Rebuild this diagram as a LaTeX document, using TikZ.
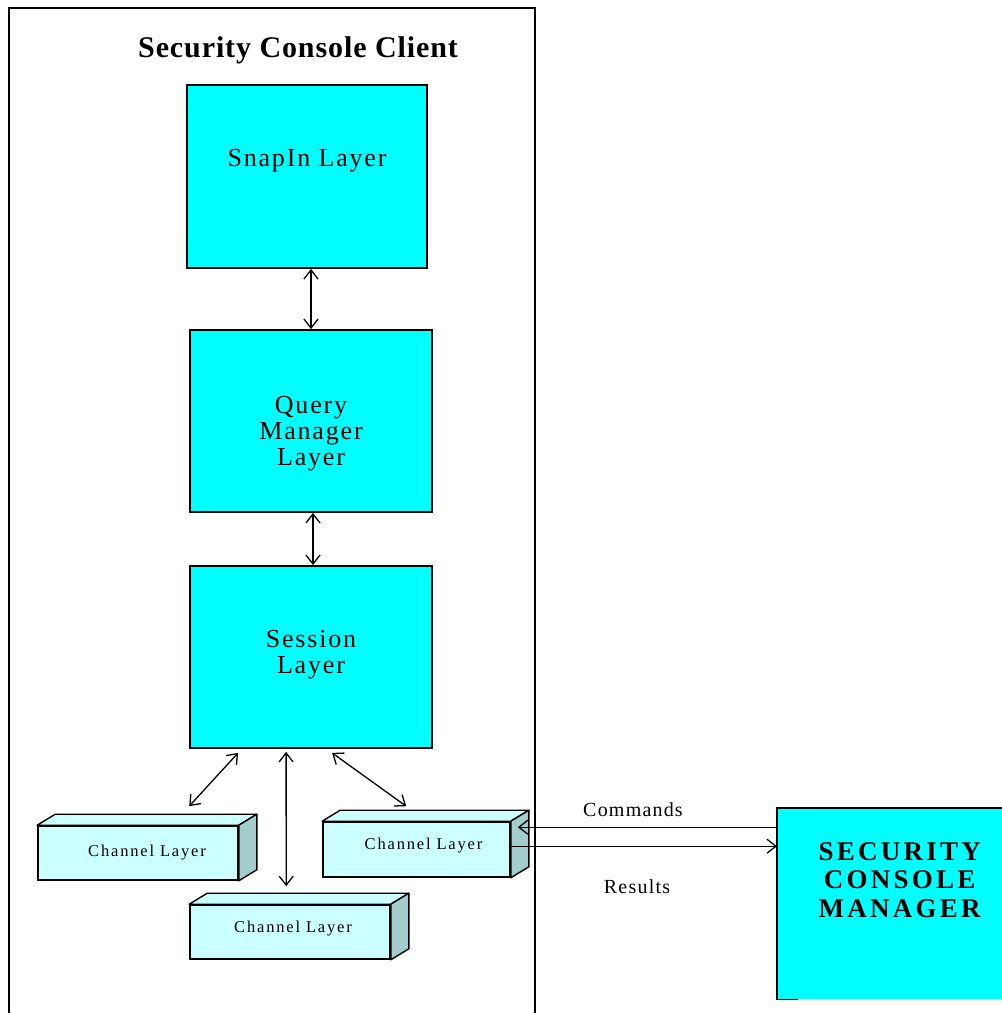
\documentclass[tikz,border=0pt]{standalone}
\usepackage{fontspec}
\setmainfont{Liberation Serif}
\usetikzlibrary{arrows.meta,calc}
\definecolor{boxcyan}{HTML}{00FFFF}
\definecolor{chfront}{HTML}{CCFFFF}
\definecolor{chside}{HTML}{A3CCCC}
\tikzset{
  layerbox/.style={draw=black, line width=1.8bp, fill=boxcyan, inner sep=0pt},
  layertext/.style={font=\fontsize{26bp}{26bp}\selectfont\addfontfeature{LetterSpace=7}, align=center, inner sep=0pt},
  chbox/.style={draw=black, line width=1.6bp, fill=chfront, inner sep=0pt, minimum height=54bp},
  chtext/.style={font=\fontsize{16.5bp}{18bp}\selectfont\addfontfeature{LetterSpace=11}, inner sep=0pt},
  chtop/.style={draw=black, line width=1.4bp, fill=chfront, line join=round},
  chsideface/.style={draw=black, line width=1.4bp, fill=chside, line join=round},
  dbl/.style={line width=1.3bp, {Straight Barb[length=9bp,width=14bp]}-{Straight Barb[length=9bp,width=14bp]}},
  oneway/.style={line width=1.3bp, -{Straight Barb[length=9bp,width=14bp]}},
  msgtext/.style={font=\fontsize{20bp}{22bp}\selectfont\addfontfeature{LetterSpace=6}, inner sep=0pt}
}
\begin{document}
\begin{tikzpicture}[x=1bp,y=-1bp]
\useasboundingbox (0,0) rectangle (1002,1013);
\fill[white] (0,0) rectangle (1002,1013);

% outer client frame
\draw[line width=1.8bp] (9,1015) -- (9,8) -- (535,8) -- (535,1015);
\node[font=\fontsize{30bp}{32bp}\selectfont\bfseries\addfontfeature{LetterSpace=3}, inner sep=0pt] (title) at (298,50) {Security Console Client};

% layers
\node[layerbox, minimum width=240bp, minimum height=183bp,
  label={[layertext, yshift=16bp]center:SnapIn Layer}] (snap) at (307,176.5) {};
\node[layerbox, minimum width=242bp, minimum height=182bp,
  label={[layertext, yshift=-13bp]center:Query\\Manager\\Layer}] (query) at (311,421) {};
\node[layerbox, minimum width=242bp, minimum height=182bp,
  label={[layertext, yshift=2bp]center:Session\\Layer}] (session) at (311,657) {};

\draw[dbl] ($(snap.south)+(4,0)$) -- ($(query.north)+(0,0)$);
\draw[dbl] ($(query.south)+(2,0)$) -- ($(session.north)+(2,0)$);

% channel layers
\node[chbox, minimum width=200bp] (ch1) at (138,853) {};
\node[chbox, minimum width=187bp, minimum height=55bp] (ch2) at (416.5,849.5) {};
\node[chbox, minimum width=200bp] (ch3) at (290,932) {};
\foreach \c in {ch1,ch2,ch3}{
  \draw[chtop] (\c.north west) -- ++(18,-11) -- ($(\c.north east)+(18,-11)$) -- (\c.north east) -- cycle;
  \draw[chsideface] (\c.north east) -- ++(18,-11) -- ($(\c.south east)+(18,-11)$) -- (\c.south east) -- cycle;
}
\node[chtext] (ch1t) at ($(ch1.center)+(9,0)$) {Channel Layer};
\node[chtext] (ch2t) at ($(ch2.center)+(7,-4)$) {Channel Layer};
\node[chtext] (ch3t) at ($(ch3.center)+(3,-3)$) {Channel Layer};

% session to channels
\coordinate (sa) at ($(session.south west)+(49,4)$);
\coordinate (ca) at ($(ch1.north west)+(152,-19)$);
\coordinate (sb) at ($(session.south west)+(97,3)$);
\coordinate (cb) at ($(ch3.north west)+(97,-18)$);
\coordinate (sc) at ($(session.south west)+(143,4)$);
\coordinate (cc) at ($(ch2.north west)+(84,-15)$);
\draw[dbl] (sa) -- (ca);
\draw[dbl] (sb) -- (cb);
\draw[dbl] (sc) -- (cc);

% manager
\node[fill=boxcyan, inner sep=0pt, minimum width=233bp, minimum height=191bp, anchor=north west,
  label={[font=\fontsize{27bp}{28.5bp}\selectfont\bfseries\addfontfeature{LetterSpace=12}, align=center, inner sep=0pt, xshift=6bp, yshift=24bp]center:SECURITY\\CONSOLE\\MANAGER}] (mgr) at (777,808) {};
\draw[line width=1.8bp] ($(mgr.south west)+(21,0)$) -- (mgr.south west) -- (mgr.north west) -- (mgr.north east);

% commands / results
\coordinate (cmdL) at ($(ch2.north east)+(7,6)$);
\coordinate (resL) at ($(ch2.north east)+(0,25)$);
\draw[oneway] (mgr.west |- cmdL) -- (cmdL);
\draw[oneway] (resL) -- (mgr.west |- resL);
\node[msgtext] (cmdtxt) at (633,810) {Commands};
\node[msgtext] (restxt) at (637,887) {Results};
\end{tikzpicture}
\end{document}
